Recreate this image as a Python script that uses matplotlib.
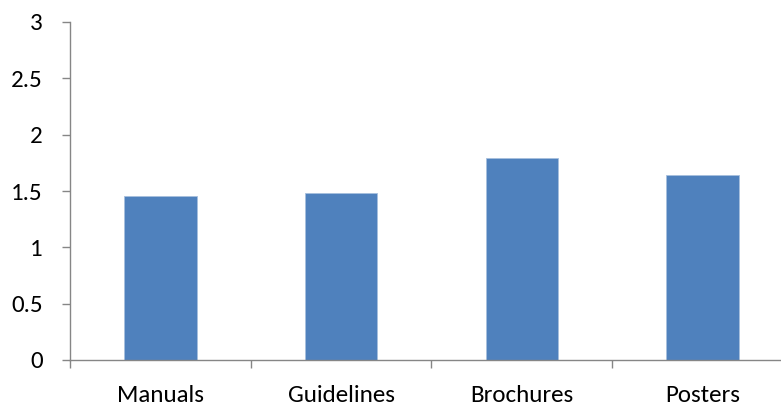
import matplotlib
matplotlib.use("Agg")
import matplotlib.pyplot as plt
import numpy as np

categories = ["Manuals", "Guidelines", "Brochures", "Posters"]
values = [1.46, 1.48, 1.79, 1.64]
y_ticks = [0, 0.5, 1, 1.5, 2, 2.5, 3]
y_tick_labels = ["0", "0.5", "1", "1.5", "2", "2.5", "3"]

plt.rcParams["font.family"] = ["Carlito", "Lato", "DejaVu Sans"]

fig = plt.figure(figsize=(7.81, 4.07), dpi=100)
ax = fig.add_axes([70 / 781, 1 - 360 / 407, 723 / 781, 338 / 407])

x = np.arange(len(categories))
ax.bar(x, values, width=0.4, color="#4F81BD", edgecolor="#A7BFDE", linewidth=0.6)

ax.set_xlim(-0.5, len(categories) - 0.5)
ax.set_ylim(0, 3)

grey = "#868686"
for side in ("top", "right"):
    ax.spines[side].set_visible(False)
for side in ("left", "bottom"):
    ax.spines[side].set_color(grey)
    ax.spines[side].set_linewidth(1.0)

ax.set_yticks(y_ticks)
ax.set_yticklabels(y_tick_labels)
ax.tick_params(axis="y", direction="out", length=6, width=1, color=grey,
               pad=13.5, labelsize=18, labelcolor="black")

# category boundaries carry the tick marks; names sit at the bar centres
ax.set_xticks(np.arange(-0.5, len(categories) + 0.5, 1.0))
ax.set_xticklabels([])
ax.set_xticks(x, minor=True)
ax.set_xticklabels(categories, minor=True)
ax.tick_params(axis="x", which="major", direction="out", length=6, width=1, color=grey)
ax.tick_params(axis="x", which="minor", length=0, pad=18, labelsize=18, labelcolor="black")

fig.savefig("out.png", dpi=100)
